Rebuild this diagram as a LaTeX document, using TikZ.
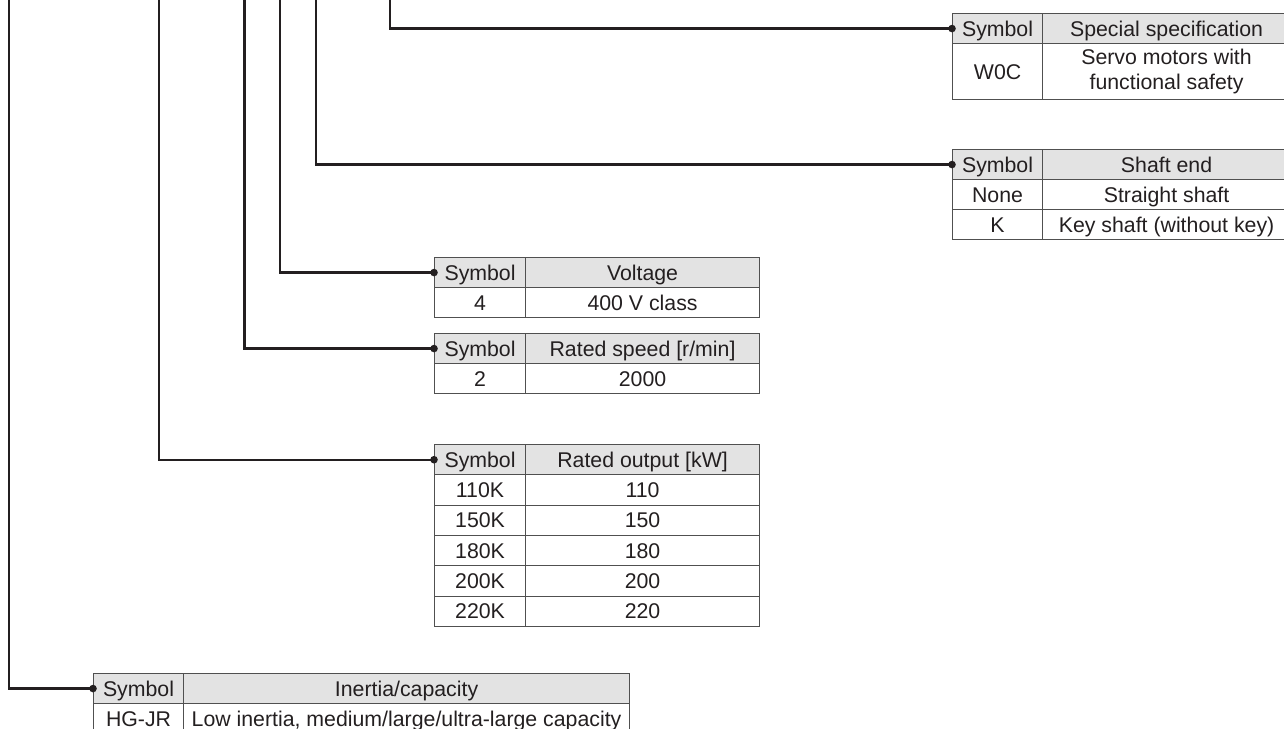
\documentclass[tikz,border=0pt]{standalone}
\usepackage{fontspec}
\setmainfont{Liberation Sans}
\definecolor{ink}{HTML}{231F20}
\definecolor{rulec}{HTML}{505050}
\definecolor{hdrfill}{HTML}{E3E3E3}
\begin{document}
\begin{tikzpicture}[x=1pt,y=-1pt,
  cellbase/.style={draw=rulec, line width=1.1pt, inner sep=0pt, anchor=north west,
    text=ink, font=\fontsize{21.3}{25}\selectfont, align=center, minimum height=30pt},
  cell/.style={cellbase, text height=17pt, text depth=2pt},
  hcell/.style={cell, fill=hdrfill},
  conn/.style={draw=ink, line width=2.2pt},
  dot/.style={fill=ink}]
\useasboundingbox (0,0) rectangle (1284,728);

% ---------- Table: special specification ----------
\node[hcell, minimum width=90pt] (spA) at (952,13) {Symbol};
\node[hcell, minimum width=248pt] (spB) at (1042,13) {Special specification};
\node[cell, minimum width=90pt, minimum height=56pt] (spC) at (952,43) {W0C};
\node[cellbase, minimum width=248pt, minimum height=56pt] (spD) at (1042,43) {Servo motors with\\functional safety};

% ---------- Table: shaft end ----------
\node[hcell, minimum width=90pt] (shA) at (952,149) {Symbol};
\node[hcell, minimum width=248pt] (shB) at (1042,149) {Shaft end};
\node[cell, minimum width=90pt] (shC) at (952,179) {None};
\node[cell, minimum width=248pt] (shD) at (1042,179) {Straight shaft};
\node[cell, minimum width=90pt] (shE) at (952,209) {K};
\node[cell, minimum width=248pt] (shF) at (1042,209) {Key shaft (without key)};

% ---------- Table: voltage ----------
\node[hcell, minimum width=91pt] (voA) at (434,257) {Symbol};
\node[hcell, minimum width=234pt] (voB) at (525,257) {Voltage};
\node[cell, minimum width=91pt] (voC) at (434,287) {4};
\node[cell, minimum width=234pt] (voD) at (525,287) {400 V class};

% ---------- Table: rated speed ----------
\node[hcell, minimum width=91pt] (rsA) at (434,333) {Symbol};
\node[hcell, minimum width=234pt] (rsB) at (525,333) {Rated speed [r/min]};
\node[cell, minimum width=91pt] (rsC) at (434,363) {2};
\node[cell, minimum width=234pt] (rsD) at (525,363) {2000};

% ---------- Table: rated output ----------
\node[hcell, minimum width=91pt, minimum height=30.33pt] (roA) at (434,444) {Symbol};
\node[hcell, minimum width=234pt, minimum height=30.33pt] (roB) at (525,444) {Rated output [kW]};
\node[cell, minimum width=91pt, minimum height=30.33pt] (ro1a) at (434,474.33) {110K};
\node[cell, minimum width=234pt, minimum height=30.33pt] (ro1b) at (525,474.33) {110};
\node[cell, minimum width=91pt, minimum height=30.33pt] (ro2a) at (434,504.67) {150K};
\node[cell, minimum width=234pt, minimum height=30.33pt] (ro2b) at (525,504.67) {150};
\node[cell, minimum width=91pt, minimum height=30.33pt] (ro3a) at (434,535) {180K};
\node[cell, minimum width=234pt, minimum height=30.33pt] (ro3b) at (525,535) {180};
\node[cell, minimum width=91pt, minimum height=30.33pt] (ro4a) at (434,565.33) {200K};
\node[cell, minimum width=234pt, minimum height=30.33pt] (ro4b) at (525,565.33) {200};
\node[cell, minimum width=91pt, minimum height=30.33pt] (ro5a) at (434,595.67) {220K};
\node[cell, minimum width=234pt, minimum height=30.33pt] (ro5b) at (525,595.67) {220};

% ---------- Table: inertia/capacity ----------
\node[hcell, minimum width=90pt] (inA) at (93,673) {Symbol};
\node[hcell, minimum width=446pt] (inB) at (183,673) {Inertia/capacity};
\node[cell, minimum width=90pt] (inC) at (93,703) {HG-JR};
\node[cell, minimum width=446pt] (inD) at (183,703) {Low inertia, medium/large/ultra-large capacity};

% ---------- Connectors ----------
\coordinate (k1) at (390,-3);
\coordinate (k2) at (316,-3);
\coordinate (k3) at (280,-3);
\coordinate (k4) at (244.5,-3);
\coordinate (k5) at (159,-3);
\coordinate (k6) at (9,-3);
\draw[conn] (k1) |- (spA.west);
\draw[conn] (k2) |- (shA.west);
\draw[conn] (k3) |- (voA.west);
\draw[conn] (k4) |- (rsA.west);
\draw[conn] (k5) |- (roA.west);
\draw[conn] (k6) |- (inA.west);
\foreach \n in {spA,shA,voA,rsA,roA,inA}
  \fill[dot] (\n.west) circle (3.8pt);
\end{tikzpicture}
\end{document}
